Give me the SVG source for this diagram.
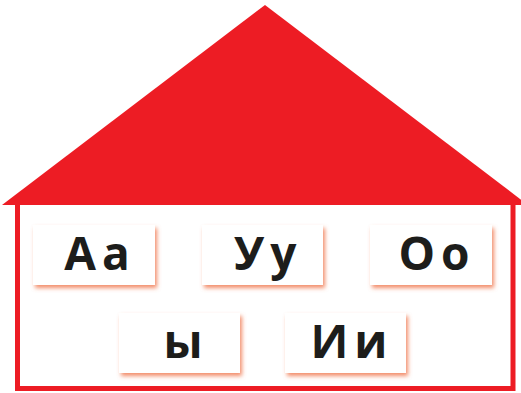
<svg xmlns="http://www.w3.org/2000/svg" width="521" height="393" viewBox="0 0 521 393">
<defs>
<filter id="sh" x="-20%" y="-20%" width="140%" height="150%">
<feDropShadow dx="2" dy="3" stdDeviation="2" flood-color="#f07850" flood-opacity="0.85"/>
</filter>
</defs>
<style>
.card{fill:#ffffff;filter:url(#sh)}
.t{font-family:"Open Sans","DejaVu Sans",sans-serif;font-weight:700;font-size:46px;fill:#1d1d1b;text-anchor:middle;letter-spacing:6px}
</style>
<rect width="521" height="393" fill="#ffffff"/>
<g id="house">
<polygon points="265,5 2,205 528,205" fill="#ed1c24"/>
<polyline points="17.5,205 17.5,388.5 513,388.5 513,205" fill="none" stroke="#ed1c24" stroke-width="5"/>
</g>
<g id="card-aa"><rect class="card" x="33" y="225" width="122" height="60"/><text class="t" x="100" y="270">Aa</text></g>
<g id="card-uu"><rect class="card" x="202" y="225" width="121" height="60"/><text class="t" x="268" y="270">Уу</text></g>
<g id="card-oo"><rect class="card" x="370" y="225" width="122" height="60"/><text class="t" x="437" y="270">Oo</text></g>
<g id="card-y"><rect class="card" x="119" y="313" width="121" height="60"/><text class="t" x="186" y="358">ы</text></g>
<g id="card-ii"><rect class="card" x="285" y="313" width="121" height="60"/><text class="t" x="352" y="358">Ии</text></g>
<g id="connectors"/>
</svg>
